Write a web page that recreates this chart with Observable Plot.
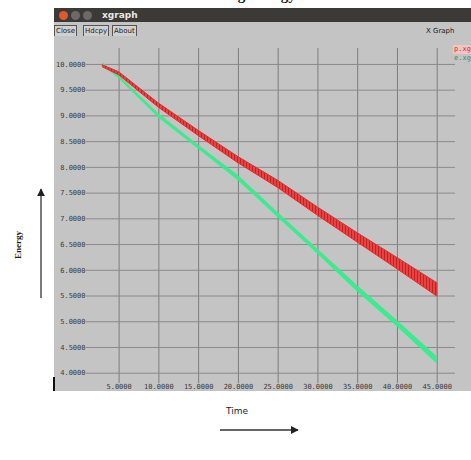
<!DOCTYPE html>
<html>
<head>
<meta charset="utf-8">
<script src="https://cdn.jsdelivr.net/npm/d3@7"></script>
<script src="https://cdn.jsdelivr.net/npm/@observablehq/plot@0.6"></script>
<style>
  html, body { margin: 0; padding: 0; background: #fff; }
  #page { position: relative; width: 471px; height: 460px; overflow: hidden; font-family: "DejaVu Sans", sans-serif; }
  #caption { position: absolute; left: 0; width: 471px; top: -13px; text-align: center; font: bold 15px "Liberation Serif", serif; color: #111; }
  #win { position: absolute; left: 54px; top: 8px; width: 417px; height: 383px; background: #c4c4c4; overflow: hidden; }
  #titlebar { position: absolute; left: 0; top: 0; width: 100%; height: 14px; background: #3b3a36; }
  .dot { position: absolute; top: 3px; width: 9px; height: 9px; border-radius: 50%; background: #6b6a66; }
  #wtitle { position: absolute; left: 48px; top: 0px; color: #e8e8e8; font: bold 9px "DejaVu Sans", sans-serif; line-height: 14px; }
  .btn { position: absolute; top: 17px; height: 10px; border: 1px solid #555; background: #d0d0d0; font: 7px "DejaVu Sans", sans-serif; line-height: 10px; padding: 0 1px; color: #222; }
  #xgraph { position: absolute; left: 372px; top: 19px; font: 7px "DejaVu Sans", sans-serif; color: #222; }
  #legend { position: absolute; left: 453px; top: 45px; width: 18px; overflow: hidden; z-index: 2; }
  .leg { font: 7px "DejaVu Sans Mono", monospace; padding: 0 1px; line-height: 9px; white-space: nowrap; }
  #plot { position: absolute; left: 54px; top: 36px; z-index: 1; }
  #cursor { position: absolute; left: 53px; top: 377px; width: 2px; height: 14px; background: #111; z-index: 2; }
  #ylab { position: absolute; left: 4px; top: 240px; transform: rotate(-90deg); font: bold 9px "Liberation Serif", serif; color: #222; }
  #xlab { position: absolute; left: 226px; top: 406px; font: 9px "DejaVu Sans", sans-serif; color: #222; }
  svg.arrows { position: absolute; left: 0; top: 0; }
</style>
</head>
<body>
<div id="page">
  <div id="caption">Remaining Energy</div>
  <div id="win">
    <div id="titlebar">
      <div class="dot" style="left:5px;background:#e2572c"></div>
      <div class="dot" style="left:17px"></div>
      <div class="dot" style="left:29px"></div>
      <div id="wtitle">xgraph</div>
    </div>
    <div class="btn" style="left:0px">Close</div>
    <div class="btn" style="left:29px">Hdcpy</div>
    <div class="btn" style="left:58px">About</div>
    <div id="xgraph">X Graph</div>
  </div>
  <div id="plot"></div>
  <div id="legend">
    <div class="leg" style="color:#c03030;background:#f2c4c4">p.xg</div>
    <div class="leg" style="color:#3a8a5a">e.xg</div>
  </div>
  <div id="cursor"></div>
  <div id="ylab">Energy</div>
  <div id="xlab">Time</div>
  <svg class="arrows" width="471" height="460">
    <defs>
      <marker id="ah" viewBox="0 0 10 10" refX="9" refY="5" markerWidth="6" markerHeight="6" orient="auto">
        <path d="M0,0 L10,5 L0,10 z" fill="#222"></path>
      </marker>
    </defs>
    <line x1="41" y1="298" x2="41" y2="189" stroke="#333" stroke-width="1.3" marker-end="url(#ah)"></line>
    <line x1="220" y1="430" x2="298" y2="430" stroke="#333" stroke-width="1.3" marker-end="url(#ah)"></line>
  </svg>
</div>
<script>
// Sampled node energy over simulation time for the two trace files
const times = [3, 5, 10, 15, 20, 25, 30, 35, 40, 45];
const redEnergy = [9.96, 9.82, 9.20, 8.66, 8.14, 7.67, 7.14, 6.63, 6.13, 5.62];
const redSpread = [0.02, 0.03, 0.04, 0.05, 0.06, 0.07, 0.08, 0.09, 0.11, 0.13];
const greenEnergy = [10.0, 9.75, 9.0, 8.39, 7.79, 7.07, 6.36, 5.64, 4.96, 4.25];
const greenSpread = [0.03, 0.03, 0.04, 0.04, 0.05, 0.05, 0.05, 0.06, 0.06, 0.07];

const xTicks = [5, 10, 15, 20, 25, 30, 35, 40, 45];
const yTicks = [4, 4.5, 5, 5.5, 6, 6.5, 7, 7.5, 8, 8.5, 9, 9.5, 10];
const xDomain = [0.9, 47.3];
const yDomain = [3.8, 10.31];

const red = times.map((t, i) => ({t, lo: redEnergy[i] - redSpread[i], hi: redEnergy[i] + redSpread[i]}));
const green = times.map((t, i) => ({t, lo: greenEnergy[i] - greenSpread[i], hi: greenEnergy[i] + greenSpread[i]}));

const fmt = d => d.toFixed(4);

const chart = Plot.plot({
  width: 417,
  height: 355,
  marginLeft: 32,
  marginRight: 16,
  marginTop: 12,
  marginBottom: 8,
  style: {background: "#c4c4c4", fontFamily: "DejaVu Sans Mono, monospace", fontSize: "7px", color: "#333"},
  x: {domain: xDomain, label: null},
  y: {domain: yDomain, label: null},
  marks: [
    Plot.ruleX(xTicks, {y1: yDomain[0], y2: yDomain[1], stroke: "#7d7d7d", strokeWidth: 1}),
    Plot.ruleY(yTicks, {x1: xDomain[0], x2: xDomain[1], stroke: "#8a8a8a", strokeWidth: 1}),
    Plot.areaY(green, {x: "t", y1: "lo", y2: "hi", fill: "#35ec8c", fillOpacity: 0.95}),
    Plot.areaY(red, {x: "t", y1: "lo", y2: "hi", fill: "url(#hatch)", stroke: "#dc3030", strokeWidth: 1}),
    Plot.axisY(yTicks, {tickSize: 0, tickPadding: 1, tickFormat: fmt, fill: "#3a3a3a", label: null}),
    Plot.axisX(xTicks, {tickSize: 0, tickPadding: 1, tickFormat: fmt, fill: "#3a3a3a", label: null})
  ]
});

// Hatched fill for the red trace
const defs = d3.select(chart).insert("defs", ":first-child");
const pat = defs.append("pattern")
  .attr("id", "hatch").attr("patternUnits", "userSpaceOnUse")
  .attr("width", 3).attr("height", 6);
pat.append("rect").attr("width", 3).attr("height", 6).attr("fill", "#ea4040");
pat.append("line").attr("x1", 0.5).attr("x2", 0.5).attr("y1", 0).attr("y2", 6)
  .attr("stroke", "#b01818").attr("stroke-width", 0.7);

document.getElementById("plot").appendChild(chart);
</script>
</body>
</html>
